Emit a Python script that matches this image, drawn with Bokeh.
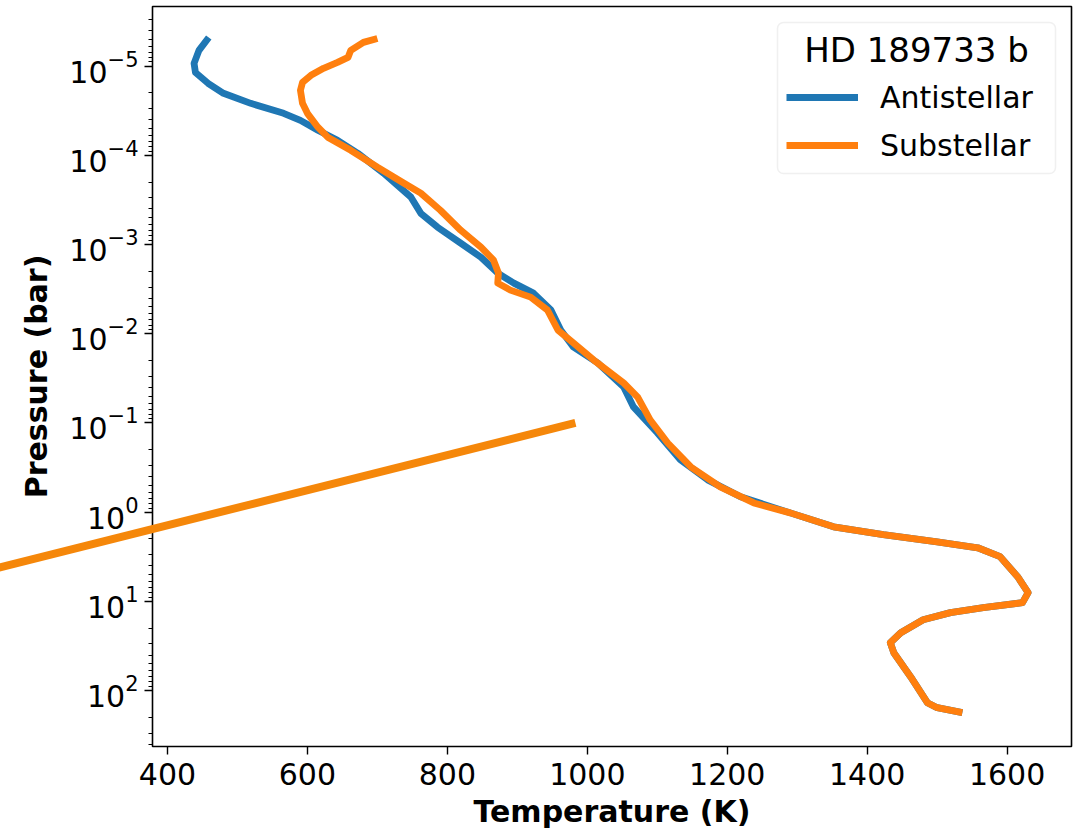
from bokeh.plotting import figure
from bokeh.models import Range1d, FixedTicker, Legend, LegendItem, BoxAnnotation, Label
from bokeh.embed import file_html
from bokeh.resources import INLINE

# Temperature-pressure profiles of HD 189733 b
anti_temp = [459, 445, 438, 440, 458, 480, 519, 566, 590, 615, 643, 672, 709, 748,
             762, 786, 819, 848, 872, 895, 923, 948, 962, 980, 1015, 1052, 1066,
             1100, 1133, 1172, 1219, 1290, 1352, 1423, 1500, 1558, 1590, 1615, 1630,
             1622, 1566, 1519, 1480, 1448, 1433, 1438, 1462, 1486, 1500, 1536]
anti_pres = [4.78e-6, 6.67e-6, 9.33e-6, 1.18e-5, 1.56e-5, 2.02e-5, 2.62e-5, 3.39e-5,
             4.06e-5, 5.25e-5, 6.79e-5, 9.51e-5, 1.59e-4, 2.95e-4, 4.47e-4, 6.40e-4,
             9.66e-4, 1.39e-3, 2.09e-3, 2.71e-3, 3.51e-3, 5.43e-3, 9.10e-3, 1.41e-2,
             2.13e-2, 3.95e-2, 6.62e-2, 0.129, 0.259, 0.435, 0.673, 1.02, 1.46, 1.79,
             2.15, 2.51, 3.16, 5.30, 8.00, 10.35, 11.8, 13.4, 16.1, 22.5, 29.1, 37.7,
             70.0, 136.8, 155.6, 177.0]

sub_temp = [700, 680, 662, 658, 643, 623, 605, 593, 590, 593, 600, 615, 629, 662,
            700, 738, 762, 790, 819, 848, 866, 873, 872, 890, 919, 943, 958, 980,
            1009, 1052, 1072, 1090, 1115, 1148, 1190, 1238, 1290, 1352, 1423, 1500,
            1558, 1590, 1615, 1630, 1622, 1566, 1519, 1480, 1448, 1433, 1438, 1462,
            1486, 1500, 1536]
sub_pres = [4.90e-6, 5.43e-6, 6.67e-6, 8.00e-6, 9.10e-6, 1.06e-5, 1.27e-5, 1.52e-5,
            1.87e-5, 2.62e-5, 3.39e-5, 4.85e-5, 6.28e-5, 8.79e-5, 1.36e-4, 2.06e-4,
            2.66e-4, 4.13e-4, 6.92e-4, 1.07e-3, 1.50e-3, 2.09e-3, 2.71e-3, 3.25e-3,
            3.89e-3, 5.43e-3, 9.10e-3, 1.27e-2, 1.97e-2, 3.57e-2, 5.13e-2, 9.29e-2,
            0.168, 0.312, 0.522, 0.789, 1.02, 1.46, 1.79, 2.15, 2.51, 3.16, 5.30, 8.00,
            10.35, 11.8, 13.4, 16.1, 22.5, 29.1, 37.7, 70.0, 136.8, 155.6, 177.0]

series_labels = ["Antistellar", "Substellar"]
legend_title = "HD 189733 b"

# Straight stroke crossing the left side of the chart (runs past the axis)
stroke_temp = [148, 983]
stroke_pres = [4.4, 0.1]

x_ticks = [400, 600, 800, 1000, 1200, 1400, 1600]
y_ticks = [1e-5, 1e-4, 1e-3, 1e-2, 1e-1, 1e0, 1e1, 1e2]
y_minor = [m * 10.0 ** e for e in range(-6, 3) for m in range(2, 10)]

FONT = "DejaVu Sans"

p = figure(
    y_axis_type="log",
    x_range=Range1d(378.6, 1692.0),
    y_range=Range1d(424.0, 2.15e-6),
    frame_width=919, frame_height=740,
    min_border_left=152, min_border_right=16,
    min_border_top=6, min_border_bottom=91,
    output_backend="svg", toolbar_location=None,
    background_fill_color="white", border_fill_color="white",
)
p.grid.visible = False
p.outline_line_color = "black"
p.outline_line_width = 1.6

r_anti = p.line(anti_temp, anti_pres, line_color="#1f77b4", line_width=6.8,
                line_join="round", line_cap="butt")
r_sub = p.line(sub_temp, sub_pres, line_color="#ff7f0e", line_width=6.8,
               line_join="round", line_cap="butt")

p.xaxis.ticker = FixedTicker(ticks=x_ticks)
p.yaxis.ticker = FixedTicker(ticks=y_ticks, minor_ticks=y_minor)

for ax in (p.xaxis[0], p.yaxis[0]):
    ax.axis_line_color = None
    ax.major_tick_line_color = "black"
    ax.minor_tick_line_color = "black"
    ax.major_tick_line_width = 1.4
    ax.minor_tick_line_width = 1.1
    ax.major_tick_in = 0
    ax.major_tick_out = 8
    ax.minor_tick_in = 0
    ax.minor_tick_out = 4
    ax.major_label_text_font = FONT
    ax.major_label_text_font_size = "30px"
    ax.major_label_text_color = "black"
    ax.axis_label_text_font = FONT
    ax.axis_label_text_font_size = "30px"
    ax.axis_label_text_font_style = "bold"
    ax.axis_label_text_color = "black"

p.xaxis.axis_label = "Temperature (K)"
p.yaxis.axis_label = "Pressure (bar)"
p.xaxis.minor_tick_out = 0
p.xaxis.major_label_standoff = 8
p.yaxis.major_label_standoff = 6
p.xaxis.axis_label_standoff = 6
p.yaxis.axis_label_standoff = 12

# Legend frame (screen units, measured from the frame's lower-left corner)
legend_box = BoxAnnotation(
    left=625, right=903, top=724, bottom=573,
    left_units="screen", right_units="screen",
    top_units="screen", bottom_units="screen",
    fill_color="white", fill_alpha=0.8,
    line_color="#cccccc", line_width=1.5, border_radius=6,
)
p.add_layout(legend_box)

legend = Legend(
    items=[LegendItem(label=series_labels[0], renderers=[r_anti]),
           LegendItem(label=series_labels[1], renderers=[r_sub])],
    location=(634, 577),
    margin=0,
    padding=0,
    spacing=0,
    label_height=48,
    glyph_height=48,
    glyph_width=72,
    label_width=150,
    label_standoff=22,
    label_text_font=FONT,
    label_text_font_size="30px",
    label_text_color="black",
    border_line_color=None,
    background_fill_alpha=0,
)
p.add_layout(legend)

# Legend heading, centred over the legend frame
p.add_layout(Label(
    x=764, y=697, x_units="screen", y_units="screen", text=legend_title,
    text_align="center", text_baseline="middle",
    text_font=FONT, text_font_size="34px", text_color="black",
))

# Stroke rendered on the overlay level so it is painted over the axes as well
p.line(stroke_temp, stroke_pres, line_color="#f5870a", line_width=8,
       line_cap="butt", level="overlay")

open("out.html", "w").write(file_html(p, INLINE))
